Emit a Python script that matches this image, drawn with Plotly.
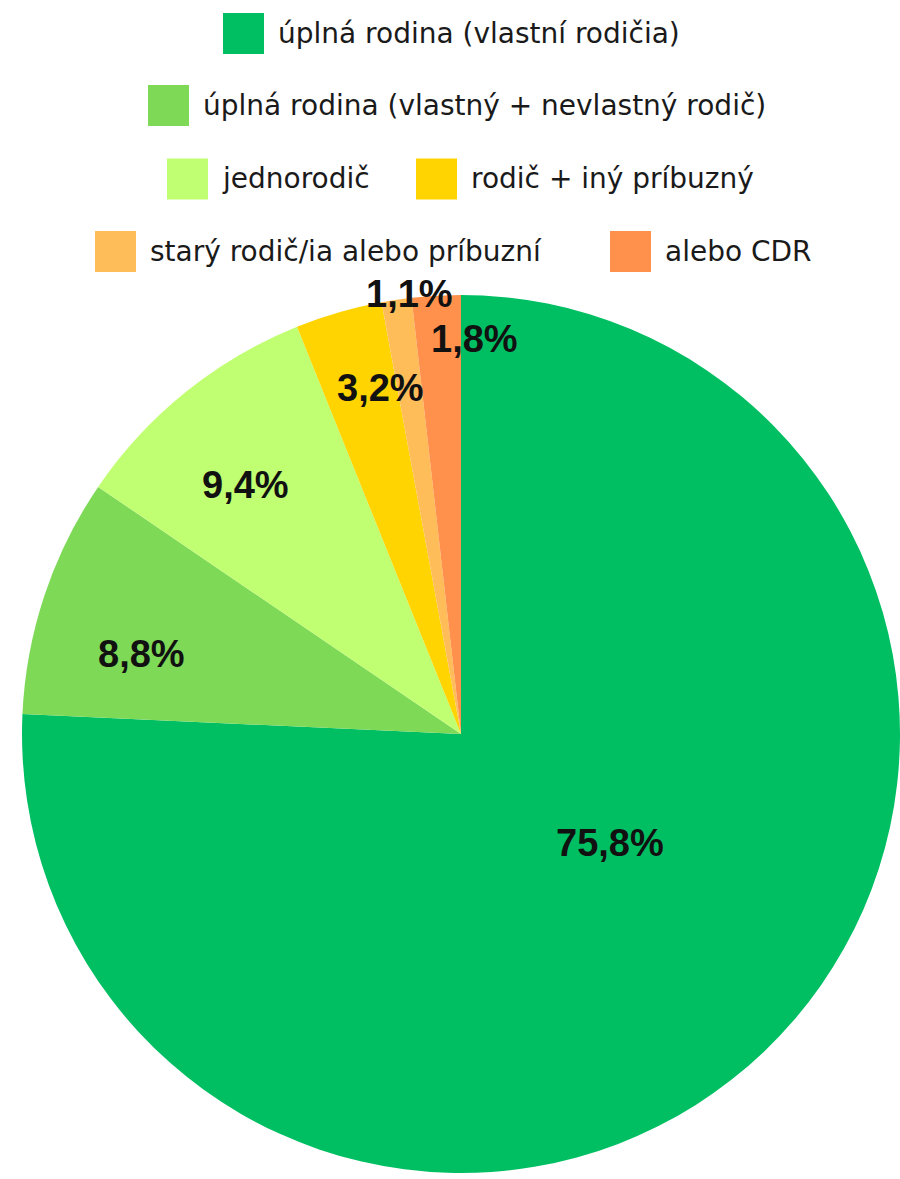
import math
import plotly.graph_objects as go

# ---- data ----
categories = [
    "úplná rodina (vlastní rodičia)",
    "úplná rodina (vlastný + nevlastný rodič)",
    "jednorodič",
    "rodič + iný príbuzný",
    "starý rodič/ia alebo príbuzní",
    "alebo CDR",
]
values = [75.8, 8.8, 9.4, 3.2, 1.1, 1.8]
value_labels = ["75,8%", "8,8%", "9,4%", "3,2%", "1,1%", "1,8%"]

# ---- style ----
colors = ["#00BF63", "#7ED957", "#C1FF72", "#FFD400", "#FFBD59", "#FF914D"]
W, H = 900, 1179
pie_left, pie_right, pie_top, pie_bottom = 22, 900, 295, 1173

# label placement style: (radial fraction of radius, angular nudge in degrees)
label_style = [(0.42, -10), (0.75, -4.3), (0.75, -2.0), (0.81, 3.1), (1.01, 1.8), (0.90, 5.2)]

# legend layout: rows of item indices, row centre y (px), left x of square (px)
legend_rows = [
    ([0], 33.5, [223]),
    ([1], 105.5, [148]),
    ([2, 3], 179, [167, 416]),
    ([4, 5], 251.5, [95, 610]),
]
SQ = 41
GAP = 12
legend_font = dict(family="DejaVu Sans", size=28, color="#1a1a1a")
label_font = dict(family="Liberation Sans", size=38, color="#111111")

fig = go.Figure()
fig.add_trace(go.Pie(
    labels=categories,
    values=values,
    sort=False,
    direction="clockwise",
    rotation=0,
    marker=dict(colors=colors, line=dict(width=0)),
    textinfo="none",
    showlegend=False,
    domain=dict(x=[pie_left / W, pie_right / W], y=[1 - pie_bottom / H, 1 - pie_top / H]),
))

# percent labels placed from slice geometry
cx = (pie_left + pie_right) / 2
cy = (pie_top + pie_bottom) / 2
r = min(pie_right - pie_left, pie_bottom - pie_top) / 2
total = sum(values)
cum = 0.0
annotations = []
for v, lab, (rf, nudge) in zip(values, value_labels, label_style):
    mid = (cum + v / 2) / total * 360.0 + nudge
    cum += v
    a = math.radians(mid)
    px = cx + rf * r * math.sin(a)
    py = cy - rf * r * math.cos(a)
    annotations.append(dict(
        x=px / W, y=1 - py / H, xref="paper", yref="paper",
        text="<b>" + lab + "</b>", showarrow=False, font=label_font,
        xanchor="center", yanchor="middle",
    ))

shapes = []
for idxs, yc, xs in legend_rows:
    for i, x0 in zip(idxs, xs):
        shapes.append(dict(
            type="rect", xref="paper", yref="paper",
            x0=x0 / W, x1=(x0 + SQ) / W,
            y0=1 - (yc + SQ / 2) / H, y1=1 - (yc - SQ / 2) / H,
            fillcolor=colors[i], line=dict(width=0),
        ))
        annotations.append(dict(
            x=(x0 + SQ + GAP) / W, y=1 - yc / H, xref="paper", yref="paper",
            text=categories[i], showarrow=False, font=legend_font,
            xanchor="left", yanchor="middle",
        ))

fig.update_layout(
    width=W, height=H,
    margin=dict(l=0, r=0, t=0, b=0),
    paper_bgcolor="white", plot_bgcolor="white",
    annotations=annotations, shapes=shapes,
)

fig.write_html("out.html", config={"displayModeBar": False},
               post_script="document.body.style.margin='0';")
